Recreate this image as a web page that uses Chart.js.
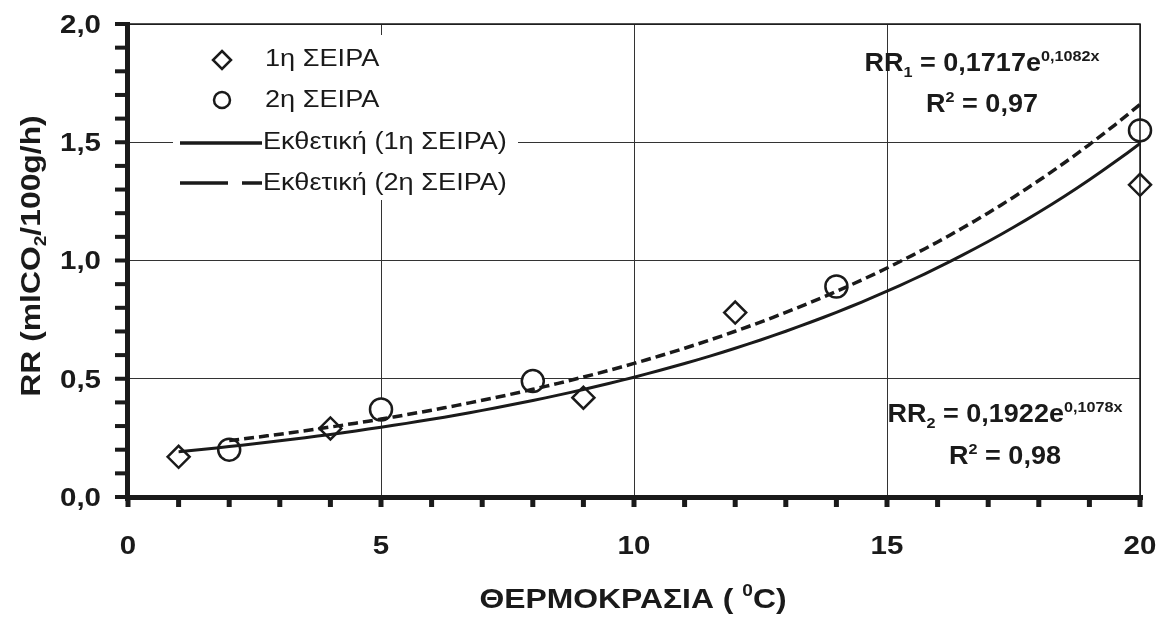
<!DOCTYPE html>
<html>
<head>
<meta charset="utf-8">
<script src="https://cdn.jsdelivr.net/npm/chart.js@4/dist/chart.umd.min.js"></script>
<style>
  html, body { margin: 0; padding: 0; background: #fff; }
  #wrap { width: 1156px; height: 617px; }
</style>
</head>
<body>
<div id="wrap"><canvas id="rrChart" width="1156" height="617"></canvas></div>
<script>
// measured respiration rate, two series
const temps1 = [1, 4, 9, 12, 20];
const rr1 = [0.17, 0.29, 0.42, 0.78, 1.32];
const temps2 = [2, 5, 8, 14, 20];
const rr2 = [0.20, 0.37, 0.49, 0.89, 1.55];

// exponential trendlines: RR = a * e^(b*T)
const fit1 = [0.1717, 0.1082];
const fit2 = [0.1922, 0.1078];
const fitRange1 = [1, 20];
const fitRange2 = [2, 20];

const xTicks = [0, 5, 10, 15, 20];
const yTicks = [0, 0.5, 1.0, 1.5, 2.0];

const FONT = "'Liberation Sans', Arial, sans-serif";
const INK = "#1a1a1a";
const WIDE = 1.18; // the labels use a wide face

function trendPoints(coef, range) {
    const pts = [];
    for (let t = range[0]; t <= range[1] + 1e-9; t += 0.25) {
        pts.push({ x: t, y: coef[0] * Math.exp(coef[1] * t) });
    }
    return pts;
}

function toPoints(xs, ys) {
    return xs.map((x, i) => ({ x, y: ys[i] }));
}

function drawDiamond(ctx, x, y, r) {
    ctx.beginPath();
    ctx.moveTo(x, y - r);
    ctx.lineTo(x + r, y);
    ctx.lineTo(x, y + r);
    ctx.lineTo(x - r, y);
    ctx.closePath();
    ctx.fillStyle = "#fff";
    ctx.fill();
    ctx.stroke();
}

// stretched text; align: "left" | "center" | "right"
function wideText(ctx, str, x, y, size, bold, align, stretch) {
    ctx.save();
    ctx.font = (bold ? "bold " : "") + size + "px " + FONT;
    ctx.textBaseline = "middle";
    ctx.textAlign = "left";
    const w = ctx.measureText(str).width * stretch;
    let x0 = x;
    if (align === "center") x0 = x - w / 2;
    if (align === "right") x0 = x - w;
    ctx.translate(x0, y);
    ctx.scale(stretch, 1);
    ctx.fillText(str, 0, 0);
    ctx.restore();
}

// text with sub/superscript parts: [[text, mode], ...] mode: "", "sub", "sup"
function richText(ctx, parts, cx, cy, size, bold, stretch) {
    const w = bold ? "bold " : "";
    let total = 0;
    for (const [t, m] of parts) {
        ctx.font = w + (m ? size * 0.6 : size) + "px " + FONT;
        total += ctx.measureText(t).width;
    }
    ctx.save();
    ctx.translate(cx, cy);
    ctx.scale(stretch, 1);
    let x = -total / 2;
    ctx.textAlign = "left";
    ctx.textBaseline = "alphabetic";
    for (const [t, m] of parts) {
        const s = m ? size * 0.6 : size;
        ctx.font = w + s + "px " + FONT;
        let dy = 0;
        if (m === "sub") dy = size * 0.22;
        if (m === "sup") dy = -size * 0.42;
        ctx.fillText(t, x, size * 0.36 + dy);
        x += ctx.measureText(t).width;
    }
    ctx.restore();
}

const framePlugin = {
    id: "frame",
    beforeDatasetsDraw(chart) {
        // legend box hides the grid behind it
        const ctx = chart.ctx;
        ctx.save();
        ctx.fillStyle = "#fff";
        ctx.fillRect(173, 35, 345, 165);
        ctx.restore();
    },
    afterDraw(chart) {
        const ctx = chart.ctx;
        const a = chart.chartArea;
        const xs = chart.scales.x;
        const ys = chart.scales.y;
        ctx.save();
        ctx.strokeStyle = INK;
        ctx.fillStyle = INK;

        // thin top and right border
        ctx.lineWidth = 1.5;
        ctx.beginPath();
        ctx.moveTo(a.left, a.top);
        ctx.lineTo(a.right, a.top);
        ctx.lineTo(a.right, a.bottom);
        ctx.stroke();

        // heavy left and bottom axes
        ctx.fillRect(a.left - 3, a.top - 2, 5, a.bottom - a.top + 6);
        ctx.fillRect(a.left - 3, a.bottom - 2, a.right - a.left + 6, 5);

        // minor ticks every 0.1 on y, every 1 on x
        for (let i = 0; i <= 20; i++) {
            const py = ys.getPixelForValue(i / 10);
            ctx.fillRect(a.left - 13, py - 2, 12, 4);
            const px = xs.getPixelForValue(i);
            ctx.fillRect(px - 2.5, a.bottom, 5, 10);
        }

        // tick labels
        ctx.fillStyle = INK;
        for (const v of yTicks) {
            wideText(ctx, v.toFixed(1).replace(".", ","), 101, ys.getPixelForValue(v) + 2, 25, true, "right", WIDE);
        }
        for (const v of xTicks) {
            wideText(ctx, String(v), xs.getPixelForValue(v), 547, 25, true, "center", WIDE);
        }

        // axis titles
        richText(ctx, [["ΘΕΡΜΟΚΡΑΣΙΑ ( ", ""], ["0", "sup"], ["C)", ""]], 633, 598, 27, true, WIDE);
        ctx.save();
        ctx.translate(30, 256);
        ctx.rotate(-Math.PI / 2);
        richText(ctx, [["RR (mlCO", ""], ["2", "sub"], ["/100g/h)", ""]], 0, 0, 27, true, WIDE);
        ctx.restore();

        // fit equations
        richText(ctx, [["RR", ""], ["1", "sub"], [" = 0,1717e", ""], ["0,1082x", "sup"]], 982, 62, 25, true, 1.08);
        richText(ctx, [["R", ""], ["2", "sup"], [" = 0,97", ""]], 982, 103, 25, true, 1.08);
        richText(ctx, [["RR", ""], ["2", "sub"], [" = 0,1922e", ""], ["0,1078x", "sup"]], 1005, 413, 25, true, 1.08);
        richText(ctx, [["R", ""], ["2", "sup"], [" = 0,98", ""]], 1005, 455, 25, true, 1.08);

        // legend
        ctx.lineWidth = 2.5;
        drawDiamond(ctx, 222, 60, 9);
        ctx.beginPath();
        ctx.arc(222, 100, 8, 0, Math.PI * 2);
        ctx.fillStyle = "#fff";
        ctx.fill();
        ctx.stroke();
        ctx.lineWidth = 3.5;
        ctx.beginPath();
        ctx.moveTo(180, 143);
        ctx.lineTo(262, 143);
        ctx.stroke();
        ctx.beginPath();
        ctx.moveTo(180, 183);
        ctx.lineTo(228, 183);
        ctx.moveTo(242, 183);
        ctx.lineTo(262, 183);
        ctx.stroke();

        ctx.fillStyle = INK;
        wideText(ctx, "1η ΣΕΙΡΑ", 265, 60, 23, false, "left", WIDE);
        wideText(ctx, "2η ΣΕΙΡΑ", 265, 101, 23, false, "left", WIDE);
        wideText(ctx, "Εκθετική (1η ΣΕΙΡΑ)", 263, 143, 23, false, "left", WIDE);
        wideText(ctx, "Εκθετική (2η ΣΕΙΡΑ)", 263, 184, 23, false, "left", WIDE);
        ctx.restore();
    }
};

new Chart(document.getElementById("rrChart"), {
    type: "scatter",
    data: {
        datasets: [
            {
                label: "1η ΣΕΙΡΑ",
                data: toPoints(temps1, rr1),
                pointStyle: "rectRot",
                pointRadius: 11,
                pointBorderWidth: 2.5,
                borderColor: INK,
                backgroundColor: "#fff",
                clip: false,
                order: 2
            },
            {
                label: "2η ΣΕΙΡΑ",
                data: toPoints(temps2, rr2),
                pointStyle: "circle",
                pointRadius: 11,
                pointBorderWidth: 2.5,
                borderColor: INK,
                backgroundColor: "#fff",
                clip: false,
                order: 2
            },
            {
                label: "Εκθετική (1η ΣΕΙΡΑ)",
                data: trendPoints(fit1, fitRange1),
                showLine: true,
                pointRadius: 0,
                borderColor: INK,
                borderWidth: 3,
                clip: false,
                order: 1
            },
            {
                label: "Εκθετική (2η ΣΕΙΡΑ)",
                data: trendPoints(fit2, fitRange2),
                showLine: true,
                pointRadius: 0,
                borderColor: INK,
                borderWidth: 3.5,
                borderDash: [10, 5],
                clip: false,
                order: 1
            }
        ]
    },
    options: {
        responsive: false,
        animation: false,
        layout: { padding: { left: 0, top: 24, right: 16, bottom: 0 } },
        plugins: {
            legend: { display: false },
            tooltip: { enabled: false }
        },
        scales: {
            x: {
                type: "linear",
                min: 0, max: 20,
                afterBuildTicks: (s) => { s.ticks = xTicks.map(v => ({ value: v })); },
                afterFit: (s) => { s.height = 120; s.paddingLeft = 0; s.paddingRight = 0; },
                grid: { color: "#333", lineWidth: 1, drawTicks: false },
                border: { display: false },
                ticks: { display: false }
            },
            y: {
                min: 0, max: 2,
                afterBuildTicks: (s) => { s.ticks = yTicks.map(v => ({ value: v })); },
                afterFit: (s) => { s.width = 128; s.paddingTop = 0; s.paddingBottom = 0; },
                grid: { color: "#333", lineWidth: 1, drawTicks: false },
                border: { display: false },
                ticks: { display: false }
            }
        }
    },
    plugins: [framePlugin]
});
</script>
</body>
</html>
